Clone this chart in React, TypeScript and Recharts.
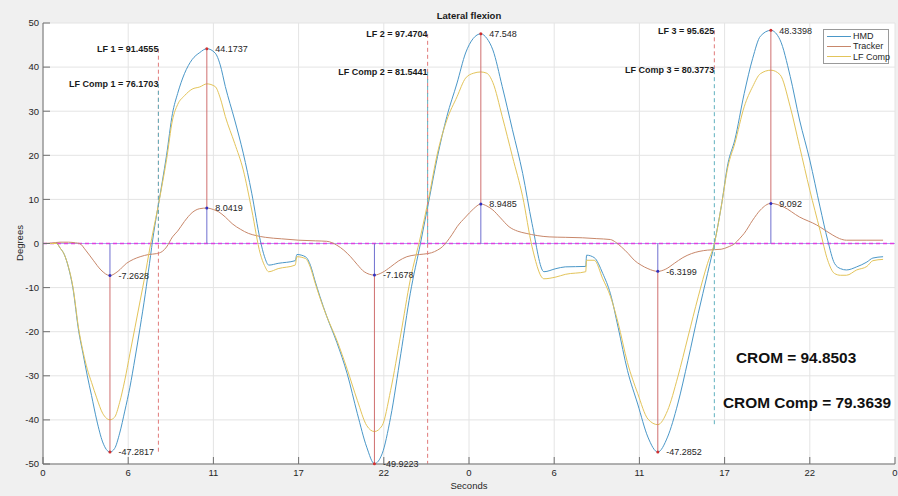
import React from "react";
import {
  LineChart,
  Line,
  XAxis,
  YAxis,
  CartesianGrid,
  ReferenceLine,
  ReferenceDot,
} from "recharts";

// x positions are in tick units (0..10); labels come from the time axis
const xTicks = [0, 1, 2, 3, 4, 5, 6, 7, 8, 9, 10];
const xTickLabels = ["0", "6", "11", "17", "22", "0", "6", "11", "17", "22", "0"];
const yTicks = [-50, -40, -30, -20, -10, 0, 10, 20, 30, 40, 50];

const seconds = [
  0, 0.1, 0.16, 0.2, 0.25, 0.3, 0.35, 0.42, 0.47, 0.52, 0.57, 0.63, 0.7, 0.786, 0.84, 0.9,
  0.96, 1.02, 1.08, 1.14, 1.2, 1.25, 1.3, 1.35, 1.4, 1.45, 1.52, 1.58, 1.66, 1.75, 1.84,
  1.923, 2.02, 2.08, 2.14, 2.25, 2.35, 2.45, 2.55, 2.6, 2.65, 2.76, 2.96, 2.98, 3.08, 3.14,
  3.19, 3.25, 3.33,
  3.45, 3.57, 3.69, 3.8, 3.89, 3.98, 4.08, 4.2, 4.31, 4.43, 4.53, 4.63, 4.74, 4.86, 4.96,
  5.05, 5.139, 5.21, 5.28, 5.39, 5.51, 5.63, 5.74, 5.88, 6.02, 6.13, 6.37, 6.38, 6.47, 6.57,
  6.66,
  6.75, 6.86, 6.98, 7.1, 7.216, 7.33, 7.45, 7.57, 7.69, 7.8, 7.88, 7.96, 8.04, 8.12, 8.23,
  8.33, 8.42, 8.543, 8.65, 8.77, 8.88, 9.0, 9.12, 9.21, 9.29, 9.36, 9.43, 9.55, 9.67, 9.74,
  9.86,
];

const hmd = [
  0, 0, 0, -1, -2.5, -5.5, -10, -20, -25, -30, -34.5, -40, -45, -47.2817, -46.5, -43,
  -38, -32.6, -26, -19, -11.5, -4.5, 2.5, 8.3, 14, 20, 29.5, 34, 38.5, 41.7, 43.3,
  44.1737, 43.2, 40.5, 35.6, 28, 20.5, 11.4, 0.75, -3, -4.9, -4.5, -3.9, -2.5, -3, -5,
  -8.3, -12, -16.5,
  -22.5, -29.5, -38.6, -46.2, -49.9223, -47.7, -39.4, -25, -11.4, 0, 9.8, 19.7, 28.8, 36.4,
  43.2, 46.5, 47.548, 46.5, 43.9, 35.6, 25.8, 15.9, 4.5, -6.4, -5.7, -5.3, -5.2, -2.65,
  -3.2, -6.8, -11.4,
  -19, -28.8, -36.4, -43.9, -47.2852, -43.9, -36.4, -26.5, -15.9, -6.8, 0, 8.3, 18.2, 23.5,
  34, 42, 47, 48.3398, 46.2, 37.9, 28, 18.9, 8.3, 0.75, -4.5, -5.7, -6, -5.3, -4.2, -3.3, -3,
];

const lfComp = [
  0, 0, 0, -1, -2.5, -5.4, -9.7, -19.5, -24.5, -28.5, -31.5, -35, -38.5, -39.97, -39.4, -36,
  -31, -25, -19, -13, -7, -1.5, 3.5, 8.3, 13.5, 19, 28, 31.5, 33.5, 35, 35.5,
  36.2, 35.6, 33, 28.8, 22.7, 16.7, 7.6, -2.3, -5, -6.4, -5.7, -4.9, -3.0, -3.4, -5.5,
  -8.7, -12.3, -16.5,
  -22, -28.5, -35.6, -41.3, -42.64, -41.3, -33.3, -20.5, -8.3, 1.5, 10.6, 20.5, 28, 33.3,
  37.5, 38.6, 38.9, 38.6, 36.5, 28.8, 19.7, 10.6, -0.75, -8.0, -7.6, -7.0, -6.4, -3.8,
  -3.8, -8, -12,
  -18, -27, -34, -39.8, -41.08, -37.9, -30.3, -21.2, -12.1, -4.5, 0, 8.3, 17.5, 22.7,
  31, 35.6, 38.5, 39.3, 38.3, 31, 22, 12.1, 3, -3.8, -6.8, -7.2, -7.2, -6, -5.2, -3.9, -3.6,
];

const trackerSeconds = [
  0, 0.1, 0.2, 0.3, 0.38, 0.43, 0.5, 0.59, 0.68, 0.786, 0.88, 0.98, 1.06, 1.14, 1.24, 1.33,
  1.4, 1.45, 1.52, 1.58, 1.66, 1.75, 1.84, 1.923, 2.0, 2.06, 2.14, 2.22, 2.32, 2.41, 2.5,
  2.61, 2.8, 3.0, 3.2, 3.33, 3.45, 3.53, 3.61, 3.69, 3.77, 3.89, 3.98, 4.08, 4.17, 4.27,
  4.37, 4.47, 4.56, 4.63, 4.69, 4.74, 4.8, 4.86, 4.96, 5.05, 5.139, 5.21, 5.28, 5.37, 5.47,
  5.57, 5.67, 5.8, 5.94, 6.13, 6.33, 6.5, 6.66, 6.72, 6.79, 6.87, 6.94, 7.02, 7.1, 7.216,
  7.31, 7.41, 7.51, 7.61, 7.7, 7.8, 7.96, 8.04, 8.12, 8.18, 8.23, 8.33, 8.42, 8.543, 8.69,
  8.88, 9.08, 9.18, 9.27, 9.35, 9.43, 9.67, 9.86,
];

const tracker = [
  0, 0.1, 0.3, 0.3, 0.15, 0, -1.5, -3.8, -6, -7.2628, -6.3, -4.5, -3.6, -3.0, -2.5, -2.3,
  -1.8, -0.8, 1.5, 2.8, 5.0, 7.0, 7.9, 8.0419, 7.7, 7.2, 6.0, 4.5, 3.2, 2.3, 1.8,
  1.4, 1.06, 0.75, 0.6, 0.5, -0.4, -1.5, -3, -4.8, -6.4, -7.1678, -6.6, -5.3, -4.0, -3,
  -2.6, -2.4, -2.1, -1.5, -0.7, 0.4, 2, 3.8, 6, 7.8, 8.9485, 8.5, 7.6, 5.8, 3.8,
  2.8, 2.3, 1.8, 1.5, 1.4, 1.3, 1.1, 0.9, 0.3, -0.8, -2.3, -3.8, -4.9, -5.7, -6.3199,
  -5.8, -4.5, -3.2, -2.3, -1.8, -1.5, -1.3, -0.8, 0, 1.2, 2.3, 5.3, 7.6, 9.092, 8.3,
  6, 4.2, 3.0, 1.9, 1.1, 0.75, 0.75, 0.75,
];

// extreme points (min, max per movement)
const extremaTime = [0.786, 1.923, 3.89, 5.139, 7.216, 8.543];
const hmdExtrema = [-47.2817, 44.1737, -49.9223, 47.548, -47.2852, 48.3398];
const trackerExtrema = [-7.2628, 8.0419, -7.1678, 8.9485, -6.3199, 9.092];
const compPeak = [36.2, 38.9, 39.3];
const lfRange = [91.4555, 97.4704, 95.625];
const lfCompRange = [76.1703, 81.5441, 80.3773];
const crom = 94.8503;
const cromComp = 79.3639;

const HMD_COLOR = "#4a97c8";
const TRACKER_COLOR = "#c8876a";
const COMP_COLOR = "#e3c45a";
const FONT = "'Liberation Sans', Arial, Helvetica, sans-serif";

const hmdData = seconds.map((t, i) => ({ t, v: hmd[i] }));
const compData = seconds.map((t, i) => ({ t, v: lfComp[i] }));
const trackerData = trackerSeconds.map((t, i) => ({ t, v: tracker[i] }));

const legendItems = [
  { name: "HMD", color: HMD_COLOR },
  { name: "Tracker", color: TRACKER_COLOR },
  { name: "LF Comp", color: COMP_COLOR },
];

export default function App() {
  const cycles = [0, 1, 2].map((k) => {
    const tMin = extremaTime[2 * k];
    const tMax = extremaTime[2 * k + 1];
    return {
      k,
      mid: (tMin + tMax) / 2,
      hMax: hmdExtrema[2 * k + 1],
      hMin: hmdExtrema[2 * k],
      cMax: compPeak[k],
      cMin: compPeak[k] - lfCompRange[k],
    };
  });

  const textLabel = (value: string, position: string, offset: number, bold: boolean) => ({
    value,
    position,
    offset,
    fontSize: 9,
    fontWeight: bold ? "bold" : "normal",
    fill: bold ? "#1a1a1a" : "#262626",
    fontFamily: FONT,
  });

  return (
    <div
      style={{
        position: "absolute",
        left: 0,
        top: 0,
        width: 898,
        height: 496,
        background: "#f0f0f0",
        fontFamily: FONT,
        overflow: "hidden",
      }}
    >
      <LineChart
        width={898}
        height={496}
        margin={{ top: 23, right: 3, bottom: 0, left: 3 }}
      >
        <CartesianGrid stroke="#e4e4e4" fill="#ffffff" />
        <XAxis
          dataKey="t"
          type="number"
          domain={[0, 10]}
          ticks={xTicks}
          interval={0}
          tickFormatter={(v: number) => xTickLabels[v]}
          height={32}
          tickSize={-7}
          tickMargin={12}
          stroke="#707070"
          tick={{ fontSize: 9.5, fill: "#262626", fontFamily: FONT }}
          allowDataOverflow
        />
        <YAxis
          type="number"
          domain={[-50, 50]}
          ticks={yTicks}
          interval={0}
          width={40}
          tickSize={-7}
          tickMargin={11}
          stroke="#707070"
          tick={{ fontSize: 9.5, fill: "#262626", fontFamily: FONT }}
          allowDataOverflow
        />
        <ReferenceLine y={0} stroke="#a8a8f0" strokeWidth={1.2} />
        <ReferenceLine y={0} stroke="#e040e0" strokeWidth={1.5} strokeDasharray="4 3" />

        <Line data={hmdData} dataKey="v" type="monotone" stroke={HMD_COLOR} strokeWidth={1} dot={false} isAnimationActive={false} />
        <Line data={trackerData} dataKey="v" type="monotone" stroke={TRACKER_COLOR} strokeWidth={1} dot={false} isAnimationActive={false} />
        <Line data={compData} dataKey="v" type="monotone" stroke={COMP_COLOR} strokeWidth={1} dot={false} isAnimationActive={false} />

        {cycles.map((c) => (
          <ReferenceLine
            key={`lf-${c.k}`}
            segment={[{ x: c.mid, y: c.hMax }, { x: c.mid, y: c.k === 2 ? c.cMax : c.hMin }]}
            stroke="#e07a7a"
            strokeDasharray="4 3"
          />
        ))}
        {cycles.map((c) => (
          <ReferenceLine
            key={`lfc-${c.k}`}
            segment={[{ x: c.mid, y: c.cMax }, { x: c.mid, y: c.k === 2 ? c.cMin : 0 }]}
            stroke="#5fb0bf"
            strokeDasharray="4 3"
          />
        ))}
        {cycles.map((c) => (
          <ReferenceDot
            key={`lft-${c.k}`}
            x={c.mid}
            y={c.hMax}
            r={0}
            fill="none"
            stroke="none"
            label={textLabel(`LF ${c.k + 1} = ${lfRange[c.k]}`, "left", 0, true)}
          />
        ))}
        {cycles.map((c) => (
          <ReferenceDot
            key={`lfct-${c.k}`}
            x={c.mid}
            y={c.cMax}
            r={0}
            fill="none"
            stroke="none"
            label={textLabel(`LF Comp ${c.k + 1} = ${lfCompRange[c.k]}`, "left", 0, true)}
          />
        ))}

        {extremaTime.map((t, i) => (
          <ReferenceLine
            key={`stem-r-${i}`}
            segment={[{ x: t, y: hmdExtrema[i] }, { x: t, y: trackerExtrema[i] }]}
            stroke="#cf6f6f"
            strokeWidth={1}
          />
        ))}
        {extremaTime.map((t, i) => (
          <ReferenceLine
            key={`stem-b-${i}`}
            segment={[{ x: t, y: trackerExtrema[i] }, { x: t, y: 0 }]}
            stroke="#6f6fcf"
            strokeWidth={1}
          />
        ))}
        {extremaTime.map((t, i) => (
          <ReferenceDot
            key={`dot-h-${i}`}
            x={t}
            y={hmdExtrema[i]}
            r={1.5}
            fill="#d03030"
            stroke="none"
            label={textLabel(String(hmdExtrema[i]), "right", 7, false)}
          />
        ))}
        {extremaTime.map((t, i) => (
          <ReferenceDot
            key={`dot-t-${i}`}
            x={t}
            y={trackerExtrema[i]}
            r={1.5}
            fill="#3030c0"
            stroke="none"
            label={textLabel(String(trackerExtrema[i]), "right", 7, false)}
          />
        ))}
      </LineChart>

      <div
        style={{
          position: "absolute",
          left: 369,
          width: 200,
          top: 10,
          textAlign: "center",
          fontSize: 9.5,
          fontWeight: "bold",
          color: "#1a1a1a",
          lineHeight: "12px",
        }}
      >
        Lateral flexion
      </div>
      <div
        style={{
          position: "absolute",
          left: 369,
          width: 200,
          top: 480,
          textAlign: "center",
          fontSize: 9.5,
          color: "#262626",
          lineHeight: "12px",
        }}
      >
        Seconds
      </div>
      <div
        style={{
          position: "absolute",
          left: -30,
          width: 100,
          top: 237,
          textAlign: "center",
          fontSize: 9.5,
          color: "#262626",
          lineHeight: "12px",
          transform: "rotate(-90deg)",
        }}
      >
        Degrees
      </div>

      <div
        style={{
          position: "absolute",
          left: 823,
          top: 29,
          width: 64,
          height: 31,
          background: "#ffffff",
          border: "1px solid #9a9a9a",
          padding: "1px 0",
        }}
      >
        {legendItems.map((it) => (
          <div
            key={it.name}
            style={{
              display: "flex",
              alignItems: "center",
              height: 10.3,
              fontSize: 9,
              color: "#262626",
              whiteSpace: "nowrap",
            }}
          >
            <div style={{ width: 24, height: 1, background: it.color, marginLeft: 3, marginRight: 2, flexShrink: 0 }} />
            <span>{it.name}</span>
          </div>
        ))}
      </div>

      <div
        style={{
          position: "absolute",
          left: 736,
          top: 348,
          fontSize: 15.4,
          fontWeight: "bold",
          color: "#111",
          lineHeight: "20px",
          whiteSpace: "nowrap",
        }}
      >
        CROM = {crom}
      </div>
      <div
        style={{
          position: "absolute",
          left: 723,
          top: 393,
          fontSize: 15.4,
          fontWeight: "bold",
          color: "#111",
          lineHeight: "20px",
          whiteSpace: "nowrap",
        }}
      >
        CROM Comp = {cromComp}
      </div>
    </div>
  );
}
